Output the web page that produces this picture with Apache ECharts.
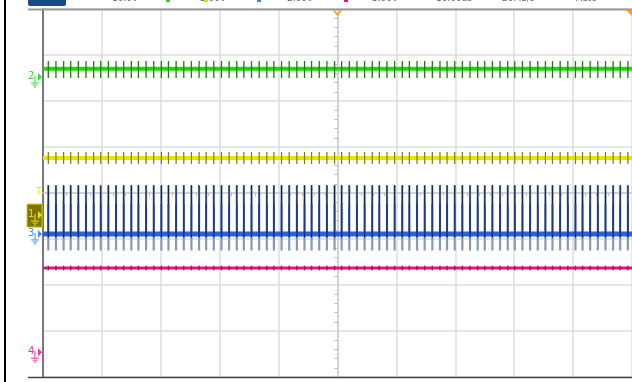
<!DOCTYPE html>
<html><head><meta charset="utf-8">
<script src="https://cdn.jsdelivr.net/npm/echarts@6/dist/echarts.min.js"></script>
<style>html,body{margin:0;padding:0;background:#fff;overflow:hidden}#c{width:632px;height:382px}</style>
</head><body><div id="c"></div>
<script>
// Time of each switching spike, in divisions from the screen centre (-5 .. 5)
const spikeTimes = [-4.91,-4.78,-4.65,-4.53,-4.40,-4.27,-4.14,-4.02,-3.89,-3.76,-3.63,-3.50,-3.38,-3.25,-3.12,-2.99,-2.87,-2.74,-2.61,-2.48,-2.35,-2.23,-2.10,-1.97,-1.84,-1.71,-1.59,-1.46,-1.33,-1.20,-1.08,-0.95,-0.82,-0.69,-0.56,-0.44,-0.31,-0.18,-0.05,0.07,0.20,0.33,0.46,0.59,0.71,0.84,0.97,1.10,1.22,1.35,1.48,1.61,1.74,1.86,1.99,2.12,2.25,2.38,2.50,2.63,2.76,2.89,3.01,3.14,3.27,3.40,3.53,3.65,3.78,3.91,4.04,4.16,4.29,4.42,4.55,4.68,4.80,4.93];
// Channels in drawing order: CH2 green, CH1 yellow, CH3 blue, CH4 magenta (divisions)
const channelNames = ['2','1','3','4'];
const traceLevels = [2.70, 0.76, -0.89, -1.63];
const spikeHigh   = [2.87, 0.89, 0.17, -1.58];
const spikeLow    = [2.50, 0.63, -1.25, -1.68];
const markerLevels = [2.52, -0.48, -0.89, -3.46];
const triggerLevel = [0.0];
const axisTicksX = [-5, 5];
const axisTicksY = [-4, 4];

const traceColors = ['#22d400', '#e8e400', '#2a5fe0', '#e0157f'];
const spikeColors = ['#1d7d10', '#7c7a10', '#8a97b8', '#b0105f'];
const markerColors = ['#33dd33', '#f0e000', '#4a8cff', '#ff2aa8'];

function spikeSeries(lo, hi, color, width, z) {
  return {
    type: 'custom', silent: true, z: z, animation: false,
    data: spikeTimes.map(t => [t, lo, hi]),
    renderItem: (params, api) => {
      const p1 = api.coord([api.value(0), api.value(1)]);
      const p2 = api.coord([api.value(0), api.value(2)]);
      return {type: 'line', shape: {x1: p1[0], y1: p1[1], x2: p2[0], y2: p2[1]},
              style: {stroke: color, lineWidth: width}};
    }
  };
}
function baseSeries(level, color, width, z) {
  return {type: 'line', silent: true, z: z, showSymbol: false, animation: false,
    data: [[axisTicksX[0], level], [axisTicksX[1], level]],
    lineStyle: {color: color, width: width}};
}

const series = [];
// green
series.push(baseSeries(traceLevels[0], traceColors[0], 4, 3));
series.push(spikeSeries(spikeLow[0], spikeHigh[0], spikeColors[0], 1.3, 4));
// yellow
series.push(baseSeries(traceLevels[1], traceColors[1], 4, 3));
series.push(spikeSeries(spikeLow[1], spikeHigh[1], spikeColors[1], 1.2, 4));
// blue
series.push(spikeSeries(spikeLow[2], spikeHigh[2], spikeColors[2], 2.2, 3));
series.push(baseSeries(traceLevels[2], traceColors[2], 5, 4));
series.push(spikeSeries(traceLevels[2] - 0.08, spikeHigh[2], '#14224f', 1.2, 5));
series.push(spikeSeries(traceLevels[2], -0.24, '#1c3a8c', 1.6, 5));
// magenta
series.push(baseSeries(traceLevels[3], traceColors[3], 3, 3));
series.push(spikeSeries(spikeLow[3], spikeHigh[3], spikeColors[3], 1.5, 4));

const chart = echarts.init(document.getElementById('c'), null, {renderer: 'canvas'});
chart.setOption({
  animation: false,
  backgroundColor: '#ffffff',
  grid: {left: 43, top: 9, width: 590, height: 368},
  xAxis: [
    {type: 'value', min: axisTicksX[0], max: axisTicksX[1], interval: 1,
     axisLine: {onZero: true, lineStyle: {color: '#cccccc', width: 1.5}},
     axisTick: {show: false}, axisLabel: {show: false},
     minorTick: {show: true, splitNumber: 5, length: 3, lineStyle: {color: '#bbbbbb'}},
     splitLine: {show: true, lineStyle: {color: '#dddddd', width: 1.5}}},
  ],
  yAxis: [
    {type: 'value', min: axisTicksY[0], max: axisTicksY[1], interval: 1,
     axisLine: {onZero: true, lineStyle: {color: '#cccccc', width: 1.5}},
     axisTick: {show: false}, axisLabel: {show: false},
     minorTick: {show: true, splitNumber: 5, length: 3, lineStyle: {color: '#bbbbbb'}},
     splitLine: {show: true, lineStyle: {color: '#dddddd', width: 1.5}}},
    {type: 'value', min: axisTicksY[0], max: axisTicksY[1], position: 'left',
     axisLine: {show: true, onZero: false, lineStyle: {color: '#555555', width: 1.5}},
     axisTick: {show: false}, axisLabel: {show: false}, splitLine: {show: false}}
  ],
  series: series
});

function yPix(v) { return chart.convertToPixel({yAxisIndex: 0}, v); }
function xPix(v) { return chart.convertToPixel({xAxisIndex: 0}, v); }

function marker(label, y, color, boxed) {
  const ch = [];
  if (boxed) {
    ch.push({type: 'rect', shape: {x: 27, y: y - 11, width: 15, height: 23}, style: {fill: '#7d7400', stroke: '#d8cc00', lineWidth: 1}});
  }
  ch.push({type: 'text', style: {text: label, x: 28, y: y - 1, fill: color, font: '10px "DejaVu Sans", sans-serif', textVerticalAlign: 'middle'}});
  ch.push({type: 'polygon', shape: {points: [[38, y - 4], [42, y], [38, y + 4]]}, style: {fill: color}});
  ch.push({type: 'line', shape: {x1: 35, y1: y - 1, x2: 35, y2: y + 6}, style: {stroke: color, lineWidth: 1}});
  ch.push({type: 'line', shape: {x1: 31, y1: y + 6, x2: 39, y2: y + 6}, style: {stroke: color, lineWidth: 1}});
  ch.push({type: 'line', shape: {x1: 32.5, y1: y + 8, x2: 37.5, y2: y + 8}, style: {stroke: color, lineWidth: 1}});
  ch.push({type: 'line', shape: {x1: 34, y1: y + 10, x2: 36, y2: y + 10}, style: {stroke: color, lineWidth: 1}});
  return ch;
}

const g = [];
g.push({type: 'rect', shape: {x: 4, y: 0, width: 2, height: 382}, style: {fill: '#000'}});
g.push({type: 'line', shape: {x1: 28, y1: 9.5, x2: 632, y2: 9.5}, style: {stroke: '#999', lineWidth: 2}});
g.push({type: 'line', shape: {x1: 28, y1: 377.5, x2: 632, y2: 377.5}, style: {stroke: '#444', lineWidth: 1.5}});
g.push({type: 'rect', shape: {x: 28, y: -4, width: 38, height: 10, r: 2}, style: {fill: '#1a4a85'}});
const topTexts = [['10.0V', 112, '#666'], ['5.00V', 200, '#666'], ['2.00V', 287, '#666'], ['5.00V', 372, '#666'], ['10.00us', 436, '#666'], ['20MS/s', 502, '#666'], ['Auto', 576, '#666']];
const topMarks = [[166, '#44cc22'], [257, '#4a7cf0'], [344, '#e0157f'], [204, '#e0e000']];
topTexts.forEach(t => g.push({type: 'text', style: {text: t[0], x: t[1], y: -6, fill: t[2], font: '9px "DejaVu Sans", sans-serif'}}));
topMarks.forEach(m => g.push({type: 'rect', shape: {x: m[0], y: 0, width: 4, height: 2}, style: {fill: m[1]}}));
// trigger position markers
const cx = xPix(0);
g.push({type: 'polyline', shape: {points: [[cx - 4, 10], [cx, 15], [cx + 4, 10]]}, style: {stroke: '#f0a020', lineWidth: 1.5, fill: null}});
g.push({type: 'polygon', shape: {points: [[626, 10], [632, 10], [632, 16]]}, style: {fill: '#f0a020'}});
// channel ground markers
const order = [0, 1, 2, 3];
order.forEach(i => {
  marker(channelNames[i], yPix(markerLevels[i]), markerColors[i], channelNames[i] === '1').forEach(e => g.push(e));
});
// trigger level "T"
const ty = yPix(triggerLevel[0]);
g.push({type: 'text', style: {text: 'T', x: 36, y: ty - 1, fill: '#f0e000', font: '9px "DejaVu Sans", sans-serif', textVerticalAlign: 'middle'}});
chart.setOption({graphic: g.map(e => Object.assign({silent: true, z: 100}, e))});
</script></body></html>
